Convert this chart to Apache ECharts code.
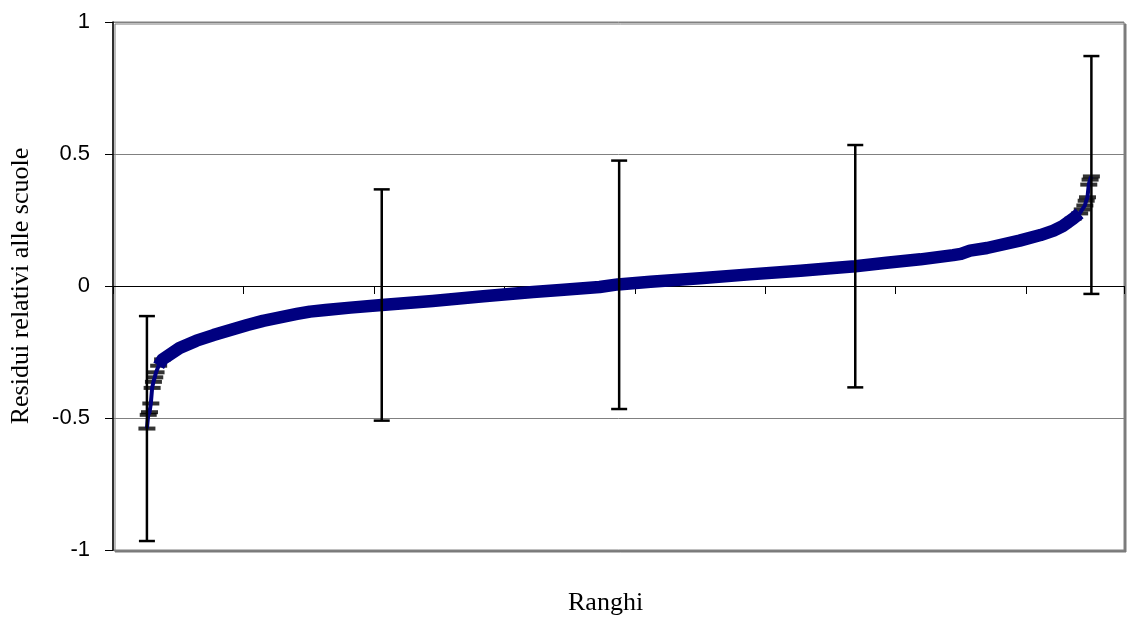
<!DOCTYPE html>
<html>
<head>
<meta charset="utf-8">
<script src="https://cdn.jsdelivr.net/npm/echarts@6/dist/echarts.min.js"></script>
<style>
html,body{margin:0;padding:0;background:#fff;}
#chart{width:1127px;height:619px;}
</style>
</head>
<body>
<div id="chart"></div>
<script>
// Ranks of schools (x) and their residuals (y)
const ranks = [1,2,3,4,5,6,7,8,10,13,26,39,52,65,78,90,103,116,126,138,157,181,220,259,297,318,348,362,387,425,463,502,525,544,568,594,619,625,632,645,670,686,696,703,711,716,718,720,721,722,723,724,725];
const residuals = [-0.540,-0.488,-0.478,-0.445,-0.386,-0.363,-0.346,-0.327,-0.302,-0.278,-0.235,-0.207,-0.186,-0.167,-0.148,-0.132,-0.119,-0.106,-0.097,-0.091,-0.082,-0.072,-0.057,-0.039,-0.023,-0.015,-0.004,0.006,0.016,0.029,0.044,0.058,0.067,0.075,0.088,0.101,0.117,0.122,0.134,0.144,0.172,0.193,0.210,0.227,0.255,0.275,0.290,0.305,0.323,0.336,0.384,0.403,0.415];

// Error bars (confidence intervals) at selected ranks
const errRanks = [1,181,363,544,725];
const errLow = [-0.966,-0.510,-0.466,-0.384,-0.030];
const errHigh = [-0.114,0.366,0.475,0.534,0.871];

// Y axis ticks
const yTicks = [-1,-0.5,0,0.5,1];

const pts = ranks.map((r,i)=>[r,residuals[i]]);
const thickStart = ranks.indexOf(10), thickEnd = ranks.indexOf(716);
const thickPts = pts.slice(thickStart, thickEnd+1);
const errData = errRanks.map((r,i)=>[r, errLow[i], errHigh[i]]);

const chart = echarts.init(document.getElementById('chart'));
chart.setOption({
  animation:false,
  backgroundColor:'#ffffff',
  grid:{left:113, right:3, top:22, bottom:69, show:true, backgroundColor:'#ffffff',
        outerBoundsMode:'none', containLabel:false,
        borderColor:'#808080', borderWidth:1,
        shadowColor:'#7a7a7a', shadowOffsetX:2, shadowOffsetY:2, shadowBlur:0},
  xAxis:{type:'value', min:-25, max:750, interval:100,
    axisLine:{onZero:true, lineStyle:{color:'#000', width:1}},
    axisTick:{show:true, length:8, lineStyle:{color:'#000'}},
    axisLabel:{show:false}, splitLine:{show:false}},
  yAxis:{type:'value', min:yTicks[0], max:yTicks[yTicks.length-1], interval:0.5,
    name:'Residui relativi alle scuole', nameLocation:'middle', nameGap:79,
    nameTextStyle:{fontFamily:'Liberation Serif', fontSize:26, color:'#000'},
    axisLine:{show:true, onZero:false, lineStyle:{color:'#000', width:1.5}},
    axisTick:{show:true, length:8, lineStyle:{color:'#000'}},
    axisLabel:{margin:23, fontFamily:'Liberation Sans', fontSize:22, color:'#000'},
    splitLine:{show:true, lineStyle:{color:'#808080', width:1}}},
  graphic:[{type:'text', left:568, top:590, style:{text:'Ranghi', font:'26px "Liberation Serif"', fill:'#000'}}],
  series:[
    {type:'scatter', data:pts, symbol:'rect', symbolSize:[17,4], itemStyle:{color:'#000'}, z:1, silent:true},
    {type:'line', data:thickPts, showSymbol:false, lineStyle:{color:'#000080', width:12.5, cap:'butt', join:'round'}, z:2, silent:true},
    {type:'line', data:pts, showSymbol:false, lineStyle:{color:'#000080', width:4, join:'round'}, z:3, silent:true},
    {type:'custom', data:errData, z:4, silent:true,
      renderItem:function(params, api){
        const x = api.value(0);
        const lo = api.coord([x, api.value(1)]);
        const hi = api.coord([x, api.value(2)]);
        const hw = 8;
        const st = {stroke:'#000', lineWidth:2.5};
        return {type:'group', children:[
          {type:'line', shape:{x1:lo[0], y1:lo[1], x2:hi[0], y2:hi[1]}, style:st},
          {type:'line', shape:{x1:lo[0]-hw, y1:lo[1], x2:lo[0]+hw, y2:lo[1]}, style:st},
          {type:'line', shape:{x1:hi[0]-hw, y1:hi[1], x2:hi[0]+hw, y2:hi[1]}, style:st}
        ]};
      }}
  ]
});
</script>
</body>
</html>
